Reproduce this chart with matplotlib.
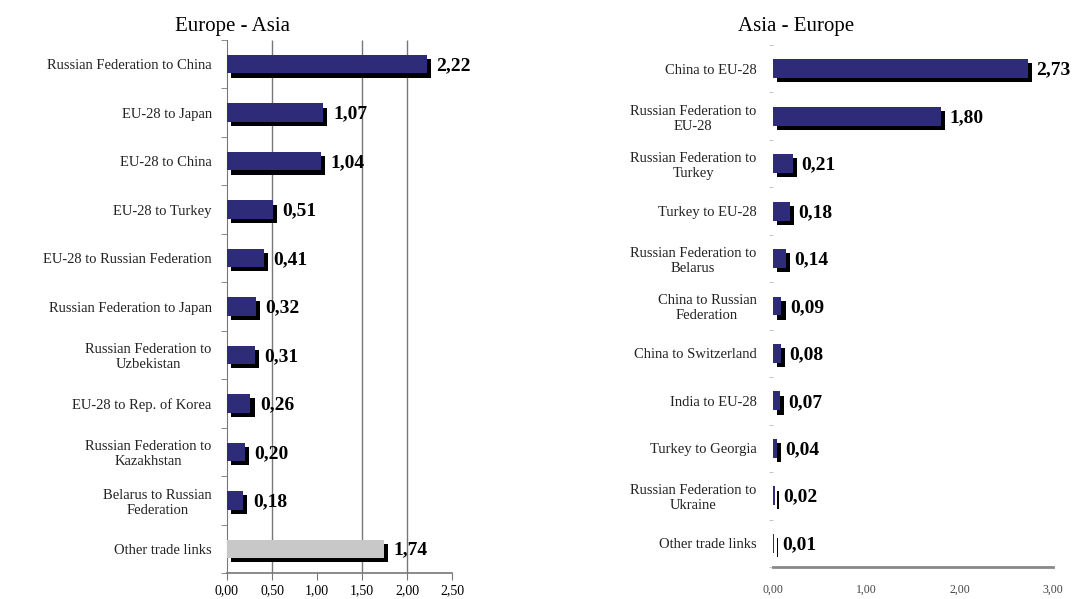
import matplotlib.pyplot as plt
import matplotlib.patheffects as pe
import numpy as np

plt.rcParams['font.family'] = ['Liberation Serif', 'DejaVu Serif']

# Europe - Asia
left_labels = ["Russian Federation to China", "EU-28 to Japan", "EU-28 to China",
               "EU-28 to Turkey", "EU-28 to Russian Federation",
               "Russian Federation to Japan", "Russian Federation to\nUzbekistan",
               "EU-28 to Rep. of Korea", "Russian Federation to\nKazakhstan",
               "Belarus to Russian\nFederation", "Other trade links"]
left_values = [2.22, 1.07, 1.04, 0.51, 0.41, 0.32, 0.31, 0.26, 0.20, 0.18, 1.74]
left_ticks = [0.0, 0.5, 1.0, 1.5, 2.0, 2.5]
left_grid = [0.5, 1.5, 2.0]

# Asia - Europe
right_labels = ["China to EU-28", "Russian Federation to\nEU-28",
                "Russian Federation to\nTurkey", "Turkey to EU-28",
                "Russian Federation to\nBelarus", "China to Russian\nFederation",
                "China to Switzerland", "India to EU-28", "Turkey to Georgia",
                "Russian Federation to\nUkraine", "Other trade links"]
right_values = [2.73, 1.80, 0.21, 0.18, 0.14, 0.09, 0.08, 0.07, 0.04, 0.02, 0.01]
right_ticks = [0.0, 1.0, 2.0, 3.0]

navy = '#2e2b78'
shadow = [pe.SimplePatchShadow(offset=(3, -3), shadow_rgbFace='black', alpha=1.0), pe.Normal()]


def fmt(v):
    return f"{v:.2f}".replace('.', ',')


fig = plt.figure(figsize=(10.83, 5.99), dpi=100)

# ---- left chart
ax1 = fig.add_axes([0.2096, 0.0434, 0.2078, 0.8898])
y = np.arange(len(left_values))
colors = [navy] * (len(left_values) - 1) + ['#c8c8c8']
bars = ax1.barh(y, left_values, height=0.38, color=colors, path_effects=shadow, zorder=3)
for b, v in zip(bars, left_values):
    ax1.annotate(fmt(v), (v, b.get_y() + b.get_height() / 2), xytext=(7, -1),
                 textcoords='offset points', va='center', ha='left',
                 fontsize=14, fontweight='bold')
ax1.vlines(left_grid, -0.5, len(left_values) - 0.5, color='#777777', lw=1, zorder=1)
ax1.set_xlim(0, 2.5)
ax1.set_ylim(len(left_values) - 0.5, -0.5)
ax1.set_xticks(left_ticks)
ax1.set_xticklabels([fmt(t) for t in left_ticks], fontsize=10)
ax1.set_yticks(y)
ax1.set_yticklabels(left_labels, fontsize=10.5, color='#222222')
for lbl in ax1.get_yticklabels():
    lbl.set_multialignment('center')
ax1.set_yticks(np.arange(len(left_values) + 1) - 0.5, minor=True)
ax1.tick_params(axis='y', which='major', length=0, pad=11)
ax1.tick_params(axis='y', which='minor', length=4, color='#777777')
ax1.tick_params(axis='x', length=5, color='#777777', pad=3)
for s in ['top', 'right']:
    ax1.spines[s].set_visible(False)
ax1.spines['left'].set_color('#777777')
ax1.spines['bottom'].set_color('#777777')
ax1.spines['bottom'].set_linewidth(1.2)
fig.text(0.215, 0.955, "Europe - Asia", fontsize=15, ha='center', va='center')

# ---- right chart
ax2 = fig.add_axes([0.7138, 0.0534, 0.2585, 0.8715])
y2 = np.arange(len(right_values))
bars2 = ax2.barh(y2, right_values, height=0.40, color=navy, path_effects=shadow, zorder=3)
for b, v in zip(bars2, right_values):
    ax2.annotate(fmt(v), (v, b.get_y() + b.get_height() / 2), xytext=(6, -1),
                 textcoords='offset points', va='center', ha='left',
                 fontsize=14, fontweight='bold')
ax2.set_xlim(0, 3.0)
ax2.set_ylim(len(right_values) - 0.5, -0.5)
ax2.set_xticks(right_ticks)
ax2.set_xticklabels([fmt(t) for t in right_ticks], fontsize=8.5, color='#444444')
ax2.set_yticks(y2)
ax2.set_yticklabels(right_labels, fontsize=10.5, color='#222222')
for lbl in ax2.get_yticklabels():
    lbl.set_multialignment('center')
ax2.set_yticks(np.arange(len(right_values) + 1) - 0.5, minor=True)
ax2.tick_params(axis='y', which='major', length=0, pad=12)
ax2.tick_params(axis='y', which='minor', length=3, color='#bbbbbb')
ax2.tick_params(axis='x', length=0, pad=12)
for s in ['top', 'right', 'left']:
    ax2.spines[s].set_visible(False)
ax2.spines['bottom'].set_color('#888888')
ax2.spines['bottom'].set_linewidth(2)
fig.text(0.735, 0.955, "Asia - Europe", fontsize=15, ha='center', va='center')

fig.savefig('out.png', dpi=100)
